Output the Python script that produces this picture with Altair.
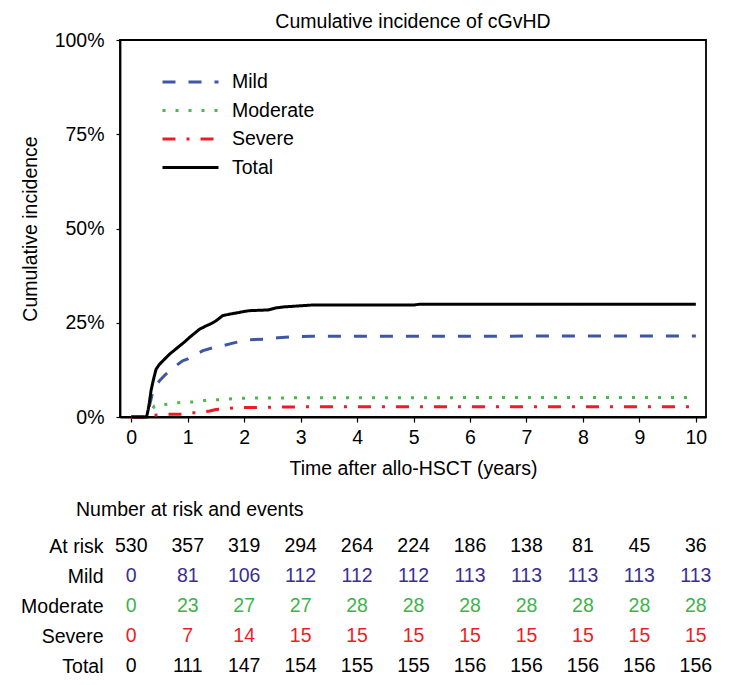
import altair as alt
import pandas as pd

FONT = "Liberation Sans"
FS = 19.5

# ---- curve data (years, cumulative incidence %) ----
total_t = [0, 0.27, 0.30, 0.32, 0.35, 0.38, 0.41, 0.44, 0.50, 0.56, 0.62, 0.68, 0.77, 0.86, 0.95,
           1.03, 1.12, 1.21, 1.33, 1.42, 1.50, 1.62, 1.75, 1.86, 2.00, 2.09, 2.42, 2.55, 2.70,
           3.00, 3.20, 5.00, 5.10, 10.0]
total_v = [0, 0, 2.0, 3.8, 7.0, 9.1, 11.0, 12.7, 14.0, 14.9, 15.8, 16.7, 17.8, 18.9, 20.0,
           21.1, 22.2, 23.3, 24.2, 24.8, 25.5, 26.9, 27.3, 27.6, 28.0, 28.2, 28.4, 28.9, 29.2,
           29.5, 29.7, 29.7, 29.9, 29.9]

mild_t = [0, 0.27, 0.33, 0.37, 0.41, 0.50, 0.60, 0.68, 0.80, 0.91, 1.00, 1.10, 1.27, 1.45, 1.62,
          1.80, 1.98, 2.10, 2.42, 2.60, 2.83, 3.20, 10.0]
mild_v = [0, 0, 3.5, 6.0, 7.8, 9.6, 11.2, 12.2, 13.7, 14.9, 15.4, 16.3, 17.6, 18.4, 18.9,
          19.6, 20.2, 20.5, 20.7, 21.0, 21.3, 21.4, 21.5]

moderate_t = [0, 0.27, 0.31, 0.35, 0.41, 0.50, 0.53, 0.74, 0.83, 1.09, 1.36, 1.56, 1.92, 2.00, 3.19, 10.0]
moderate_v = [0, 0, 0.8, 1.6, 2.9, 2.9, 3.2, 3.6, 3.8, 4.0, 4.5, 4.6, 5.0, 5.0, 5.1, 5.2]

severe_t = [0, 0.30, 0.32, 0.62, 0.86, 1.00, 1.14, 1.39, 1.50, 1.68, 1.86, 2.10, 3.00, 10.0]
severe_v = [0, 0, 0.4, 0.7, 0.7, 1.1, 1.1, 1.6, 2.0, 2.2, 2.5, 2.5, 2.7, 2.7]

series_names = ["Mild", "Moderate", "Severe", "Total"]
line_colors = ["#3F55A5", "#4DB849", "#ED1C24", "#000000"]
line_dashes = [[13, 13], [3, 10], [13, 11, 3, 11], [1, 0]]

# ---- number at risk and events table ----
table_years = list(range(11))
at_risk = [530, 357, 319, 294, 264, 224, 186, 138, 81, 45, 36]
mild_events = [0, 81, 106, 112, 112, 112, 113, 113, 113, 113, 113]
moderate_events = [0, 23, 27, 27, 28, 28, 28, 28, 28, 28, 28]
severe_events = [0, 7, 14, 15, 15, 15, 15, 15, 15, 15, 15]
total_events = [0, 111, 147, 154, 155, 155, 156, 156, 156, 156, 156]
row_labels = ["At risk", "Mild", "Moderate", "Severe", "Total"]
row_colors = ["#000000", "#3B2E8E", "#3CB44A", "#EE1C25", "#000000"]

rows = []
for name, ts, vs in zip(series_names,
                        [mild_t, moderate_t, severe_t, total_t],
                        [mild_v, moderate_v, severe_v, total_v]):
    for i, (t, v) in enumerate(zip(ts, vs)):
        rows.append({"series": name, "t": t, "ci": v / 100.0, "ord": i})
curves = pd.DataFrame(rows)

trows = []
for lab, vals in zip(row_labels, [at_risk, mild_events, moderate_events, severe_events, total_events]):
    for t, n in zip(table_years, vals):
        trows.append({"row": lab, "t": t, "n": str(n)})
table_df = pd.DataFrame(trows)

x_scale = alt.Scale(domain=[-0.2, 10.18], nice=False, zero=False)
y_scale = alt.Scale(domain=[0, 1], nice=False)

legend = alt.Legend(
    title=None, orient="none", legendX=41, legendY=32, symbolType="stroke",
    symbolSize=3136, symbolStrokeWidth=3, clipHeight=20, rowPadding=8.5,
    labelFontSize=FS, labelFont=FONT, labelColor="black", labelOffset=12, padding=0,
)

main = alt.Chart(curves).mark_line(strokeWidth=3, strokeCap="butt").encode(
    x=alt.X("t:Q", scale=x_scale,
            axis=alt.Axis(values=table_years, format="d", title="Time after allo-HSCT (years)",
                          tickSize=5, labelPadding=6, titlePadding=13, grid=False)),
    y=alt.Y("ci:Q", scale=y_scale,
            axis=alt.Axis(values=[0, 0.25, 0.5, 0.75, 1], format=".0%", title="Cumulative incidence",
                          tickSize=4, labelPadding=12, titlePadding=14, grid=False)),
    color=alt.Color("series:N", scale=alt.Scale(domain=series_names, range=line_colors), legend=legend),
    strokeDash=alt.StrokeDash("series:N", scale=alt.Scale(domain=series_names, range=line_dashes), legend=legend),
    order="ord:Q",
).properties(
    width=586, height=377,
    title=alt.Title("Cumulative incidence of cGvHD", fontSize=FS, font=FONT, fontWeight="normal",
                    color="black", anchor="middle", offset=-2),
    view=alt.ViewBackground(stroke="black", strokeWidth=1.8),
)

table = alt.Chart(table_df).mark_text(fontSize=FS, font=FONT, baseline="middle", align="center").encode(
    x=alt.X("t:Q", scale=x_scale, axis=None),
    y=alt.Y("row:N", sort=row_labels, scale=alt.Scale(type="point", padding=0.3),
            axis=alt.Axis(title=None, domain=False, ticks=False, labelPadding=17, grid=False)),
    color=alt.Color("row:N", scale=alt.Scale(domain=row_labels, range=row_colors), legend=None),
    text="n:N",
).properties(
    width=586, height=138,
    title=alt.Title("Number at risk and events", fontSize=FS, font=FONT, fontWeight="normal",
                    color="black", anchor="start", frame="group", dx=-44, offset=16),
    view=alt.ViewBackground(strokeOpacity=0),
)

chart = alt.vconcat(main, table, spacing=20).resolve_scale(
    color="independent", strokeDash="independent"
).resolve_legend(
    color="independent", strokeDash="independent"
).properties(
    padding={"left": 11, "top": 2, "right": 5, "bottom": 2},
).configure_axis(
    labelFont=FONT, labelFontSize=FS, labelColor="black", titleFont=FONT, titleFontSize=FS,
    titleFontWeight="normal", titleColor="black", domainColor="black", domainWidth=1.8,
    tickColor="black", tickWidth=1.2,
)

chart.save("out.html", embed_options={"renderer": "svg", "actions": False})
